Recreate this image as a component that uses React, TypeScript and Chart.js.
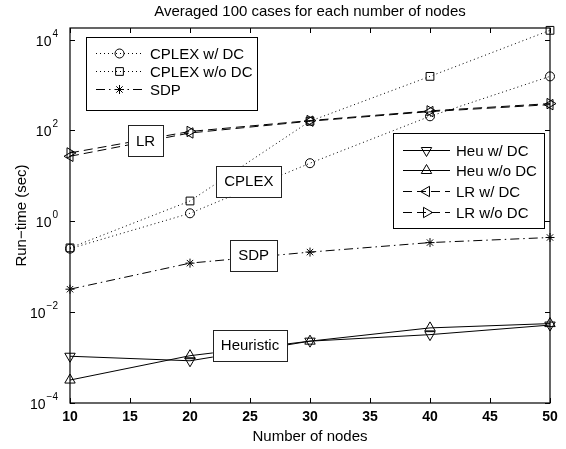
import React, { useEffect, useRef } from 'react';
import { Chart, registerables } from 'chart.js';
import { drawPoint } from 'chart.js/helpers';

Chart.register(...registerables);

const nodes = [10, 20, 30, 40, 50];
const cplexDC = [0.25, 1.5, 19, 205, 1550];
const cplexNoDC = [0.26, 2.8, 160, 1550, 16000];
const sdp = [0.032, 0.12, 0.21, 0.34, 0.44];
const heuDC = [1.07e-3, 8.5e-4, 2.3e-3, 3.2e-3, 5.2e-3];
const heuNoDC = [3.2e-4, 1.1e-3, 2.3e-3, 4.5e-3, 5.6e-3];
const lrDC = [27, 88, 160, 260, 370];
const lrNoDC = [32, 95, 165, 270, 390];

const xTicks = [10, 15, 20, 25, 30, 35, 40, 45, 50];
const yTickExps = [-4, -2, 0, 2, 4];

const titleText = 'Averaged 100 cases for each number of nodes';
const xTitle = 'Number of nodes';
const yTitle = 'Run\u2212time (sec)';

const annotations = [
  { text: 'LR', x: 16.3, y: 60 },
  { text: 'CPLEX', x: 24.9, y: 7.6 },
  { text: 'SDP', x: 25.3, y: 0.18 },
  { text: 'Heuristic', x: 25.0, y: 1.86e-3 },
];

const FONT = '"Liberation Sans", Arial, Helvetica, sans-serif';

const DOT = [1, 3];
const DASHDOT = [9, 4, 1.5, 4];
const DASH = [9, 5];

type S = {
  label: string;
  data: number[];
  dash: number[];
  style: string;
  rot: number;
  radius: number;
};

const series: S[] = [
  { label: 'CPLEX w/ DC', data: cplexDC, dash: DOT, style: 'circle', rot: 0, radius: 4.5 },
  { label: 'CPLEX w/o DC', data: cplexNoDC, dash: DOT, style: 'rect', rot: 0, radius: 5.5 },
  { label: 'SDP', data: sdp, dash: DASHDOT, style: 'star', rot: 0, radius: 4.5 },
  { label: 'Heu w/ DC', data: heuDC, dash: [], style: 'triangle', rot: 180, radius: 6 },
  { label: 'Heu w/o DC', data: heuNoDC, dash: [], style: 'triangle', rot: 0, radius: 6 },
  { label: 'LR w/ DC', data: lrDC, dash: DASH, style: 'triangle', rot: 270, radius: 6 },
  { label: 'LR w/o DC', data: lrNoDC, dash: DASH, style: 'triangle', rot: 90, radius: 6 },
];

const legend1 = { left: 86, top: 37, right: 257, bottom: 110, rows: [53, 71, 89], items: [0, 1, 2], lineFrom: 96, lineTo: 143, textX: 150 };
const legend2 = { left: 393, top: 133, right: 544, bottom: 228, rows: [150, 170, 191, 212], items: [3, 4, 5, 6], lineFrom: 403, lineTo: 450, textX: 456 };

const matlabPlugin = {
  id: 'matlabLook',
  afterDatasetsDraw(chart: any) {
    const { ctx, chartArea: a, scales } = chart;
    const xs = scales.x;
    const ys = scales.y;
    ctx.save();

    // text annotation boxes
    ctx.font = `15px ${FONT}`;
    ctx.textAlign = 'center';
    ctx.textBaseline = 'middle';
    for (const an of annotations) {
      const cx = xs.getPixelForValue(an.x);
      const cy = ys.getPixelForValue(an.y);
      const w = ctx.measureText(an.text).width + 16;
      const h = 31;
      ctx.fillStyle = '#fff';
      ctx.fillRect(cx - w / 2, cy - h / 2, w, h);
      ctx.strokeStyle = '#222';
      ctx.lineWidth = 1;
      ctx.setLineDash([]);
      ctx.strokeRect(Math.round(cx - w / 2) + 0.5, Math.round(cy - h / 2) + 0.5, Math.round(w), h);
      ctx.fillStyle = '#000';
      ctx.fillText(an.text, cx, cy + 1);
    }

    // axes box
    ctx.strokeStyle = '#000';
    ctx.lineWidth = 1.2;
    ctx.setLineDash([]);
    ctx.strokeRect(a.left, a.top, a.right - a.left, a.bottom - a.top);
    ctx.lineWidth = 1;
    ctx.beginPath();
    for (const t of xTicks) {
      const px = Math.round(xs.getPixelForValue(t)) + 0.5;
      ctx.moveTo(px, a.bottom);
      ctx.lineTo(px, a.bottom - 5);
      ctx.moveTo(px, a.top);
      ctx.lineTo(px, a.top + 5);
    }
    for (const e of yTickExps) {
      const py = Math.round(ys.getPixelForValue(Math.pow(10, e))) + 0.5;
      ctx.moveTo(a.left, py);
      ctx.lineTo(a.left + 5, py);
      ctx.moveTo(a.right, py);
      ctx.lineTo(a.right - 5, py);
    }
    ctx.stroke();

    // x tick labels
    ctx.fillStyle = '#000';
    ctx.font = `bold 14px ${FONT}`;
    ctx.textAlign = 'center';
    ctx.textBaseline = 'top';
    for (const t of xTicks) {
      ctx.fillText(String(t), xs.getPixelForValue(t), a.bottom + 7);
    }
    // y tick labels with superscripts
    for (const e of yTickExps) {
      const py = ys.getPixelForValue(Math.pow(10, e));
      const expStr = e < 0 ? '\u2212' + Math.abs(e) : String(e);
      ctx.font = `10px ${FONT}`;
      const ew = ctx.measureText(expStr).width;
      ctx.textAlign = 'left';
      ctx.textBaseline = 'alphabetic';
      const right = a.left - 12;
      ctx.fillText(expStr, right - ew, py - 3);
      ctx.font = `14px ${FONT}`;
      ctx.textAlign = 'right';
      ctx.fillText('10', right - ew - 1, py + 6);
    }

    // titles
    ctx.font = `15px ${FONT}`;
    ctx.textAlign = 'center';
    ctx.textBaseline = 'middle';
    ctx.fillText(titleText, (a.left + a.right) / 2, 12);
    ctx.fillText(xTitle, (a.left + a.right) / 2, 437);
    ctx.save();
    ctx.translate(22, (a.top + a.bottom) / 2);
    ctx.rotate(-Math.PI / 2);
    ctx.fillText(yTitle, 0, 0);
    ctx.restore();

    // legends
    for (const lg of [legend1, legend2]) {
      ctx.fillStyle = '#fff';
      ctx.fillRect(lg.left, lg.top, lg.right - lg.left, lg.bottom - lg.top);
      ctx.strokeStyle = '#000';
      ctx.lineWidth = 1;
      ctx.setLineDash([]);
      ctx.strokeRect(lg.left + 0.5, lg.top + 0.5, lg.right - lg.left, lg.bottom - lg.top);
      lg.items.forEach((idx, i) => {
        const s = series[idx];
        const y = lg.rows[i] + 0.5;
        ctx.strokeStyle = '#000';
        ctx.lineWidth = 1;
        ctx.setLineDash(s.dash);
        ctx.beginPath();
        ctx.moveTo(lg.lineFrom, y);
        ctx.lineTo(lg.lineTo, y);
        ctx.stroke();
        ctx.setLineDash([]);
        ctx.fillStyle = 'rgba(0,0,0,0)';
        drawPoint(ctx, { pointStyle: s.style, radius: s.radius, rotation: s.rot, borderWidth: 1 } as any, (lg.lineFrom + lg.lineTo) / 2, y);
        ctx.fillStyle = '#000';
        ctx.font = `15px ${FONT}`;
        ctx.textAlign = 'left';
        ctx.textBaseline = 'middle';
        ctx.fillText(s.label, lg.textX, y + 1);
      });
    }
    ctx.restore();
  },
};

export default function App() {
  const ref = useRef<HTMLCanvasElement>(null);
  useEffect(() => {
    if (!ref.current) return;
    const chart = new Chart(ref.current, {
      type: 'line',
      data: {
        labels: nodes,
        datasets: series.map((s) => ({
          label: s.label,
          data: nodes.map((n, i) => ({ x: n, y: s.data[i] })),
          borderColor: '#000',
          borderWidth: 1,
          borderDash: s.dash,
          backgroundColor: 'rgba(0,0,0,0)',
          pointStyle: s.style as any,
          pointRotation: s.rot,
          pointRadius: s.radius,
          pointBorderWidth: 1,
          pointBorderColor: '#000',
          pointBackgroundColor: 'rgba(0,0,0,0)',
          fill: false,
          tension: 0,
          clip: false as any,
        })),
      },
      options: {
        animation: false,
        responsive: false,
        devicePixelRatio: 1,
        layout: { padding: { left: 70, right: 16, top: 28, bottom: 46 } },
        plugins: { legend: { display: false }, tooltip: { enabled: false }, title: { display: false } },
        scales: {
          x: { type: 'linear', min: 10, max: 50, display: false },
          y: { type: 'logarithmic', min: 1e-4, max: 1.8e4, display: false },
        },
      },
      plugins: [matlabPlugin],
    });
    return () => chart.destroy();
  }, []);
  return (
    <div style={{ position: 'fixed', left: 0, top: 0, width: 566, height: 449, background: '#fff' }}>
      <canvas ref={ref} width={566} height={449} style={{ width: 566, height: 449 }} />
    </div>
  );
}
